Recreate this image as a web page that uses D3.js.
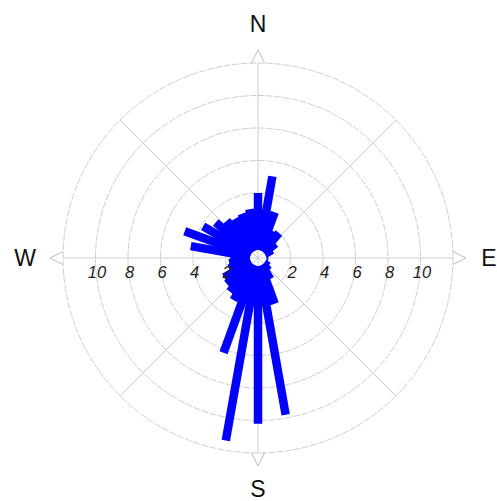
<!DOCTYPE html>
<html>
<head>
<meta charset="utf-8">
<script src="https://cdn.jsdelivr.net/npm/d3@7"></script>
<style>
  html, body { margin: 0; padding: 0; background: #fff; }
  svg { display: block; }
</style>
</head>
<body>
<svg id="chart" width="497" height="501"></svg>
<script>
// ---- data ----
const directions = [0,10,20,30,40,50,60,70,80,90,100,110,120,130,140,150,160,170,
                    180,190,200,210,220,230,240,250,260,270,280,290,300,310,320,330,340,350];
const frequencies = [4.0,5.1,3.0,1.9,2.0,1.4,1.0,0.6,0.3,0.3,0.3,0.4,0.6,0.8,1.0,1.5,3.0,9.8,
                     10.2,11.4,6.2,3.0,2.7,2.5,2.4,1.9,1.8,1.7,4.2,4.8,3.9,3.4,3.0,2.8,2.9,3.05];
const ringValues = [2,4,6,8,10,12];
const tickLabels = [2,4,6,8,10];
const spokeAngles = [0,45,90,135,180,225,270,315];
const cardinals = [{t:"N",a:0},{t:"E",a:90},{t:"S",a:180},{t:"W",a:270}];

// ---- layout ----
const cx = 258, cy = 258;
const rOuter = 195;
const rHole = 8;
const barWidth = 8.5;
const r = d3.scaleLinear().domain([0, 12]).range([0, rOuter]);
const labelDist = {N: 234.5, E: 231, S: 230.5, W: 233};

const svg = d3.select("#chart");
svg.append("rect").attr("width", 497).attr("height", 501).attr("fill", "#fff");
const g = svg.append("g").attr("transform", `translate(${cx},${cy})`);

const gridColor = "#c8c8c8";

// rings
g.selectAll("circle.ring").data(ringValues).join("circle")
  .attr("class", "ring")
  .attr("r", d => r(d))
  .attr("fill", "none")
  .attr("stroke", gridColor)
  .attr("stroke-width", 0.9)
  .attr("stroke-dasharray", "7,1.5");

// spokes
g.selectAll("line.spoke").data(spokeAngles).join("line")
  .attr("class", "spoke")
  .attr("x1", 0).attr("y1", 0)
  .attr("x2", 0).attr("y2", -rOuter)
  .attr("transform", d => `rotate(${d})`)
  .attr("stroke", gridColor)
  .attr("stroke-width", 0.9);

// arrow heads at cardinal points
g.selectAll("path.tri").data(cardinals).join("path")
  .attr("class", "tri")
  .attr("d", `M${-6.5},${-rOuter} L0,${-rOuter - 13} L${6.5},${-rOuter}`)
  .attr("transform", d => `rotate(${d.a})`)
  .attr("fill", "none")
  .attr("stroke", "#bdbdbd")
  .attr("stroke-width", 1);

// bars
const bars = directions.map((d, i) => ({dir: d, v: frequencies[i]}))
  .filter(d => r(d.v) > rHole);
g.selectAll("rect.bar").data(bars).join("rect")
  .attr("class", "bar")
  .attr("x", -barWidth / 2)
  .attr("y", d => -r(d.v))
  .attr("width", barWidth)
  .attr("height", d => r(d.v) - rHole)
  .attr("transform", d => `rotate(${d.dir})`)
  .attr("fill", "#0000ff");

// tick labels along the horizontal axis
const tickG = g.append("g")
  .attr("font-family", "Liberation Sans, Arial, sans-serif")
  .attr("font-style", "italic")
  .attr("font-size", 16.5)
  .attr("fill", "#222")
  .attr("text-anchor", "middle");
tickG.selectAll("text.tr").data(tickLabels).join("text")
  .attr("class", "tr")
  .attr("x", d => r(d) + 1.5)
  .attr("y", 20)
  .text(d => d);
tickG.selectAll("text.tl").data(tickLabels).join("text")
  .attr("class", "tl")
  .attr("x", d => -r(d) + 1.5)
  .attr("y", 20)
  .text(d => d);

// cardinal labels
g.selectAll("text.card").data(cardinals).join("text")
  .attr("class", "card")
  .attr("x", d => labelDist[d.t] * Math.sin(d.a * Math.PI / 180))
  .attr("y", d => -labelDist[d.t] * Math.cos(d.a * Math.PI / 180))
  .attr("dy", "0.36em")
  .attr("text-anchor", "middle")
  .attr("font-family", "Liberation Sans, Arial, sans-serif")
  .attr("font-size", 23)
  .attr("fill", "#111")
  .text(d => d.t);
</script>
</body>
</html>
